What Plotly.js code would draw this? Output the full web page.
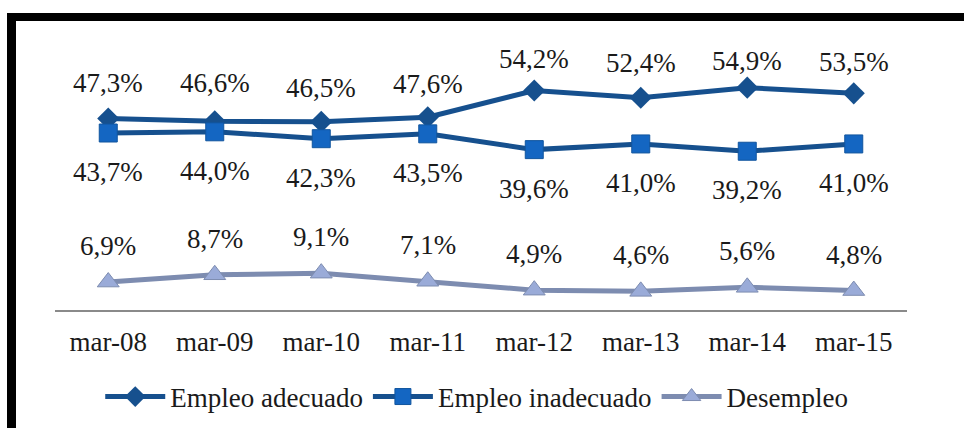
<!DOCTYPE html>
<html>
<head>
<meta charset="utf-8">
<script src="https://cdn.plot.ly/plotly-3.0.1.min.js"></script>
<style>
  html, body { margin: 0; padding: 0; background: #fff; }
  #wrap { position: relative; width: 964px; height: 428px; overflow: hidden; }
  #chart { position: absolute; left: 0; top: 0; width: 964px; height: 428px; }
  #frame { position: absolute; left: 7px; top: 13px; width: 960px; height: 420px;
           border-top: 8px solid #000; border-left: 9px solid #000; pointer-events: none; }
</style>
</head>
<body>
<div id="wrap">
  <div id="chart"></div>
  <div id="frame"></div>
</div>
<script>
// ---- data ----
const categories = ["mar-08", "mar-09", "mar-10", "mar-11", "mar-12", "mar-13", "mar-14", "mar-15"];
const empleoAdecuado = [47.3, 46.6, 46.5, 47.6, 54.2, 52.4, 54.9, 53.5];
const empleoInadecuado = [43.7, 44.0, 42.3, 43.5, 39.6, 41.0, 39.2, 41.0];
const desempleo = [6.9, 8.7, 9.1, 7.1, 4.9, 4.6, 5.6, 4.8];
const seriesNames = ["Empleo adecuado", "Empleo inadecuado", "Desempleo"];

// label offsets (pixels) for data labels
const shiftAdecuado = [35, 38, 34, 33, 31, 35, 27, 31];
const shiftInadecuado = -39;
const shiftDesempleo = 36;

const fmt = v => v.toFixed(1).replace('.', ',') + '%';
const serif = "'Liberation Serif', 'Times New Roman', serif";
const txtColor = '#1a1a1a';
const fs = 27;

const traces = [
  {
    x: categories, y: empleoAdecuado, name: seriesNames[0], type: 'scatter', mode: 'lines+markers',
    line: { color: '#16508e', width: 5 },
    marker: { symbol: 'diamond', size: 17, color: '#16508e' }
  },
  {
    x: categories, y: empleoInadecuado, name: seriesNames[1], type: 'scatter', mode: 'lines+markers',
    line: { color: '#16508e', width: 5 },
    marker: { symbol: 'square', size: 18, color: '#1466c2', line: { color: '#11559e', width: 1 } }
  },
  {
    x: categories, y: desempleo, name: seriesNames[2], type: 'scatter', mode: 'lines+markers',
    line: { color: '#7d8cb0', width: 5 },
    marker: { symbol: 'triangle-up', size: 19, color: '#9aabd8', line: { color: '#7d8cb0', width: 1 } }
  }
];

const annotations = [];
categories.forEach((c, i) => {
  annotations.push({ x: c, y: empleoAdecuado[i], text: fmt(empleoAdecuado[i]), showarrow: false,
    xref: 'x', yref: 'y', yshift: shiftAdecuado[i], font: { family: serif, size: fs, color: txtColor } });
  annotations.push({ x: c, y: empleoInadecuado[i], text: fmt(empleoInadecuado[i]), showarrow: false,
    xref: 'x', yref: 'y', yshift: shiftInadecuado, font: { family: serif, size: fs, color: txtColor } });
  annotations.push({ x: c, y: desempleo[i], text: fmt(desempleo[i]), showarrow: false,
    xref: 'x', yref: 'y', yshift: shiftDesempleo, font: { family: serif, size: fs, color: txtColor } });
});

const layout = {
  width: 964, height: 428,
  paper_bgcolor: '#fff', plot_bgcolor: '#fff',
  margin: { l: 55, r: 57, t: 67, b: 118, autoexpand: false },
  font: { family: serif, size: fs, color: txtColor },
  xaxis: {
    type: 'category', range: [-0.5, 7.5], showgrid: false, zeroline: false,
    showline: true, linecolor: '#8a8a8a', linewidth: 2, ticks: '',
    tickfont: { family: serif, size: fs, color: txtColor }, ticklabelstandoff: 7, automargin: false
  },
  yaxis: { range: [0, 60], visible: false, showgrid: false, zeroline: false },
  showlegend: true,
  legend: {
    orientation: 'h', x: 0.495, xanchor: 'center', y: -0.358, yanchor: 'middle',
    font: { family: serif, size: fs, color: txtColor }, itemwidth: 60, tracegroupgap: 0
  },
  annotations: annotations
};

Plotly.newPlot('chart', traces, layout, { staticPlot: true, displayModeBar: false });
</script>
</body>
</html>
